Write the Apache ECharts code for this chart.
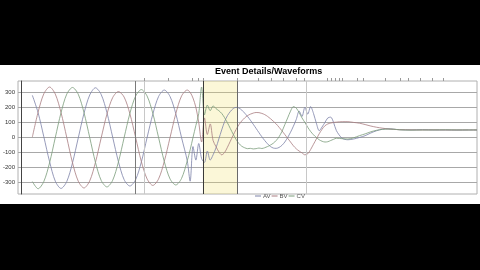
<!DOCTYPE html>
<html><head><meta charset="utf-8">
<script src="https://cdn.jsdelivr.net/npm/echarts@6/dist/echarts.min.js"></script>
<style>
html,body{margin:0;padding:0;background:#000;width:480px;height:270px;overflow:hidden}
#c{position:absolute;left:0;top:65px;width:480px;height:139px;background:#fff}
</style></head><body><div id="c"></div>
<script>
const chartTitle = 'Event Details/Waveforms';
const seriesNames = ['AV', 'BV', 'CV'];
const yTicks = [-300, -200, -100, 0, 100, 200, 300];
const yRange = [-375, 375];
const tRange = [-1, 159];
const t = [4,6,8,10,12,14,16,18,20,22,24,26,28,30,32,34,36,38,40,42,44,46,48,50,52,54,56,58,
  59,60,61,62,63,64,65,66,67,68,69,70,71,72,73,74,75,76,77,78,79,80,81,82,83,84,85,86,87,88,89,90,
  91,92,93,94,95,96,97,98,99,100,101,102,103,104,105,106,107,108,109,110,
  112,114,116,118,120,122,124,126,128,130,132,136,140,144,148,152,156,159];
const av = [280,165,5,-160,-290,-338,-292,-168,-3,160,282,330,285,165,2,-160,-280,-322,-280,-162,0,155,272,315,272,158,0,-155,
  -290,-60,-150,-40,-140,-165,-90,-150,-115,-70,-10,50,105,145,172,192,200,196,182,162,140,115,88,60,32,5,-20,-42,-60,-70,-72,-66,
  -52,-30,0,35,75,120,175,140,200,155,205,160,95,45,70,100,130,135,100,45,
  -5,-15,-10,0,12,30,45,55,58,55,52,50,52,50,50,49,50,50];
const bv = [3,168,290,335,288,165,0,-168,-290,-335,-288,-165,-2,155,265,305,268,158,0,-160,-275,-318,-275,-158,0,158,275,315,
  300,262,200,100,-30,130,20,90,-20,-60,-95,-115,-100,-65,-25,15,52,85,110,130,145,155,162,166,165,160,152,140,125,108,90,68,
  45,20,-5,-30,-55,-75,-90,-102,-115,-108,-80,-45,-10,25,55,78,90,96,100,102,
  105,105,100,95,86,76,68,62,57,54,52,51,50,51,50,50,50,50];
const cv = [-292,-340,-292,-168,0,165,288,332,287,165,0,-165,-285,-328,-284,-163,0,160,275,318,275,160,0,-160,-275,-315,-272,-155,
  -82,0,80,158,335,150,215,178,210,192,178,160,132,98,60,22,-12,-40,-58,-68,-74,-72,-76,-74,-70,-73,-68,-60,-50,-38,-20,5,
  40,85,130,175,205,195,165,130,100,68,40,18,0,-15,-25,-30,-28,-20,-12,-5,
  -8,-10,-2,12,24,38,48,54,56,55,51,49,50,50,51,50,50,50];
const eventTimes = [39.9, 43, 63.4, 75.5, 99.4];
const faultWindow = [63.4, 75.5];
const markerTicks = [43,51.5,59.6,61.7,63.4,75.5,82.8,87.3,91.5,96,98.7,106.7,108.1,109.5,110.9,112.2,117.4,119.2,127.1,132.3,135.1,139.3,143.4,147.2];

const eventColors = ['#7a7a7a', '#c8c8c8', '#3a3a3a', '#6a6a6a', '#c8c8c8'];
const colors = ['#7c82a8', '#a87c80', '#7a9c7a'];
const font = 'Liberation Sans, Arial, sans-serif';
const values = [av, bv, cv];

const chart = echarts.init(document.getElementById('c'), null, {renderer: 'canvas'});
const series = seriesNames.map((name, k) => ({
  name: name,
  type: 'line',
  data: t.map((x, i) => [x, values[k][i]]),
  symbol: 'none',
  smooth: 0.3,
  lineStyle: {width: 0.8, color: colors[k]},
  itemStyle: {color: colors[k]},
  z: 3
}));
series[0].markArea = {
  silent: true,
  itemStyle: {color: 'rgba(240,225,100,0.25)'},
  data: [[{xAxis: faultWindow[0]}, {xAxis: faultWindow[1]}]]
};
series[0].markLine = {
  silent: true,
  symbol: 'none',
  label: {show: false},
  animation: false,
  data: eventTimes.map((v, i) => ({xAxis: v, lineStyle: {color: eventColors[i], width: 1, type: 'solid'}}))
};

chart.setOption({
  animation: false,
  color: colors,
  title: {
    text: chartTitle, left: 215, top: 2, padding: 0,
    textStyle: {fontSize: 9, fontWeight: 'bold', color: '#000', fontFamily: font}
  },
  legend: {
    data: seriesNames, bottom: 0, left: 250,
    icon: 'rect', itemWidth: 6, itemHeight: 1, itemGap: 1,
    textStyle: {fontSize: 6, color: '#555', fontFamily: font, padding: [0, 0, 0, -3]}
  },
  grid: {left: 15, right: 3, top: 16, bottom: 10, show: true, borderColor: '#b0b0b0', borderWidth: 1},
  xAxis: [
    {type: 'value', min: tRange[0], max: tRange[1], show: false},
    {type: 'value', min: tRange[0], max: tRange[1], position: 'top',
     axisLine: {show: false}, axisLabel: {show: false}, splitLine: {show: false},
     axisTick: {show: true, customValues: markerTicks, length: 3, lineStyle: {color: '#999'}}}
  ],
  yAxis: {
    type: 'value', min: yRange[0], max: yRange[1],
    axisLine: {show: true, lineStyle: {color: '#444'}},
    axisTick: {show: false, customValues: yTicks},
    axisLabel: {customValues: yTicks, fontSize: 6, color: '#333', margin: 3, fontFamily: font},
    splitLine: {show: true, customValues: yTicks, lineStyle: {color: '#a8a8a8', width: 1}}
  },
  series: series
});
</script></body></html>
